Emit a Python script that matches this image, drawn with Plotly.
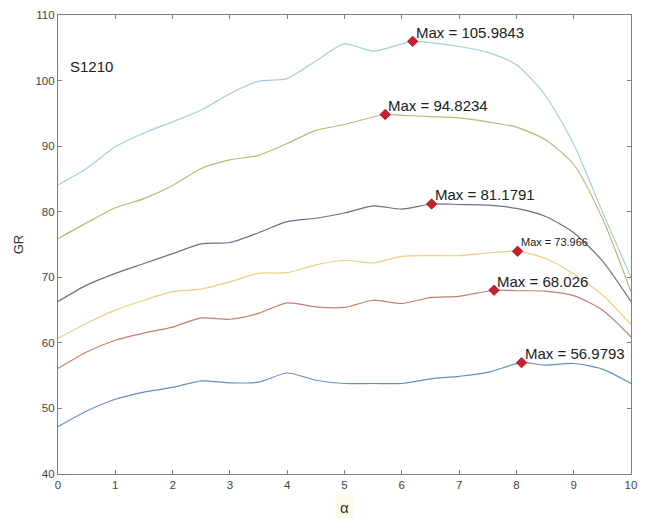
import plotly.graph_objects as go

# ---- data ----
alpha_1 = [0, 0.5, 1, 1.5, 2, 2.5, 3, 3.5, 4, 4.5, 5, 5.5, 6, 6.5, 7, 7.5, 8.09, 8.5, 9, 9.5, 10]
gr_1 = [47.2, 49.6, 51.4, 52.5, 53.2, 54.2, 53.9, 54.0, 55.4, 54.3, 53.8, 53.8, 53.8, 54.5, 54.9, 55.5, 56.9793, 56.6, 56.85, 56.0, 53.8]

alpha_2 = [0, 0.5, 1, 1.5, 2, 2.5, 3, 3.5, 4, 4.5, 5, 5.5, 6, 6.5, 7, 7.61, 8, 8.5, 9, 9.5, 10]
gr_2 = [56.1, 58.6, 60.4, 61.5, 62.4, 63.8, 63.6, 64.5, 66.1, 65.5, 65.4, 66.5, 66.0, 66.9, 67.1, 68.026, 67.95, 67.9, 67.2, 65.0, 60.9]

alpha_3 = [0, 0.5, 1, 1.5, 2, 2.5, 3, 3.5, 4, 4.5, 5, 5.5, 6, 6.5, 7, 7.5, 8.02, 8.5, 9, 9.5, 10]
gr_3 = [60.7, 63.0, 65.0, 66.5, 67.8, 68.2, 69.3, 70.6, 70.7, 71.9, 72.6, 72.2, 73.2, 73.3, 73.3, 73.7, 73.966, 72.9, 70.5, 67.3, 62.8]

alpha_4 = [0, 0.5, 1, 1.5, 2, 2.5, 3, 3.5, 4, 4.5, 5, 5.5, 6, 6.52, 7, 7.5, 8, 8.5, 9, 9.5, 10]
gr_4 = [66.3, 68.8, 70.6, 72.1, 73.6, 75.1, 75.3, 76.8, 78.5, 79.0, 79.8, 80.9, 80.4, 81.1791, 81.1, 81.0, 80.5, 79.3, 76.8, 72.5, 66.3]

alpha_5 = [0, 0.5, 1, 1.5, 2, 2.5, 3, 3.5, 4, 4.5, 5, 5.71, 6, 6.5, 7, 7.5, 8, 8.5, 9, 9.5, 10]
gr_5 = [75.9, 78.3, 80.6, 82.0, 84.0, 86.6, 87.9, 88.6, 90.4, 92.4, 93.3, 94.8234, 94.7, 94.5, 94.3, 93.7, 92.9, 91.0, 87.2, 79.0, 67.8]

alpha_6 = [0, 0.5, 1, 1.5, 2, 2.5, 3, 3.5, 4, 4.5, 5, 5.5, 6, 6.19, 6.5, 7, 7.5, 8, 8.5, 9, 9.5, 10]
gr_6 = [84.1, 86.6, 89.9, 92.0, 93.7, 95.5, 98.0, 99.9, 100.3, 103.0, 105.6, 104.5, 105.6, 105.9843, 105.8, 105.2, 104.3, 102.4, 97.8, 90.3, 80.0, 70.0]

max_alpha = [8.09, 7.61, 8.02, 6.52, 5.71, 6.19]
max_gr = [56.9793, 68.026, 73.966, 81.1791, 94.8234, 105.9843]
max_text = ["Max = 56.9793", "Max = 68.026", "Max = 73.966", "Max = 81.1791", "Max = 94.8234", "Max = 105.9843"]
max_font = [15, 15, 11, 15, 15, 15]

x_ticks = [0, 1, 2, 3, 4, 5, 6, 7, 8, 9, 10]
y_ticks = [40, 50, 60, 70, 80, 90, 100, 110]

series_x = [alpha_1, alpha_2, alpha_3, alpha_4, alpha_5, alpha_6]
series_y = [gr_1, gr_2, gr_3, gr_4, gr_5, gr_6]
colors = ["#6690ba", "#bf8070", "#edcd85", "#7a6a84", "#bdb677", "#a3cfdc"]

FONT = "Liberation Sans, Arial, sans-serif"

fig = go.Figure()
for xs, ys, c in zip(series_x, series_y, colors):
    fig.add_trace(go.Scatter(x=xs, y=ys, mode="lines",
                             line=dict(color=c, width=1.2, shape="spline", smoothing=0.7),
                             showlegend=False, hoverinfo="skip"))

fig.add_trace(go.Scatter(x=max_alpha, y=max_gr, mode="markers",
                         marker=dict(symbol="diamond", size=8, color="#cc1f2d",
                                     line=dict(color="#9a1020", width=0.8)),
                         showlegend=False, hoverinfo="skip"))

for xa, ya, t, fs in zip(max_alpha, max_gr, max_text, max_font):
    fig.add_annotation(x=xa, y=ya, text=t, showarrow=False, xanchor="left", yanchor="middle",
                       xshift=1, yshift=9, font=dict(family=FONT, size=fs, color="#222222"))

fig.add_annotation(x=0.17, y=102.2, text="S1210", showarrow=False, xanchor="left", yanchor="middle",
                   font=dict(family=FONT, size=15, color="#222222"))

fig.add_annotation(xref="paper", yref="paper", x=0.5, y=-0.074, text="α", showarrow=False,
                   xanchor="center", yanchor="middle", bgcolor="#fdfaea", borderpad=4,
                   font=dict(family=FONT, size=15, color="#333333"))

axis_common = dict(showgrid=False, zeroline=False, showline=True, linecolor="#7f7f7f", linewidth=1.2,
                   mirror="ticks", ticks="inside", ticklen=4, tickcolor="#7f7f7f",
                   tickfont=dict(family=FONT, size=11.5, color="#444444"))

fig.update_xaxes(range=[0, 10], tickvals=x_ticks, ticktext=[str(v) for v in x_ticks], **axis_common)
fig.update_yaxes(range=[40, 110], tickvals=y_ticks, ticktext=[str(v) for v in y_ticks],
                 title=dict(text="GR", font=dict(family=FONT, size=13, color="#333333"), standoff=8),
                 **axis_common)

fig.update_layout(width=645, height=518, margin=dict(l=58, r=8, t=15, b=44),
                  paper_bgcolor="white", plot_bgcolor="white")

fig.write_html("out.html", config={"displayModeBar": False},
               post_script="document.body.style.margin='0';document.body.style.overflow='hidden';")
